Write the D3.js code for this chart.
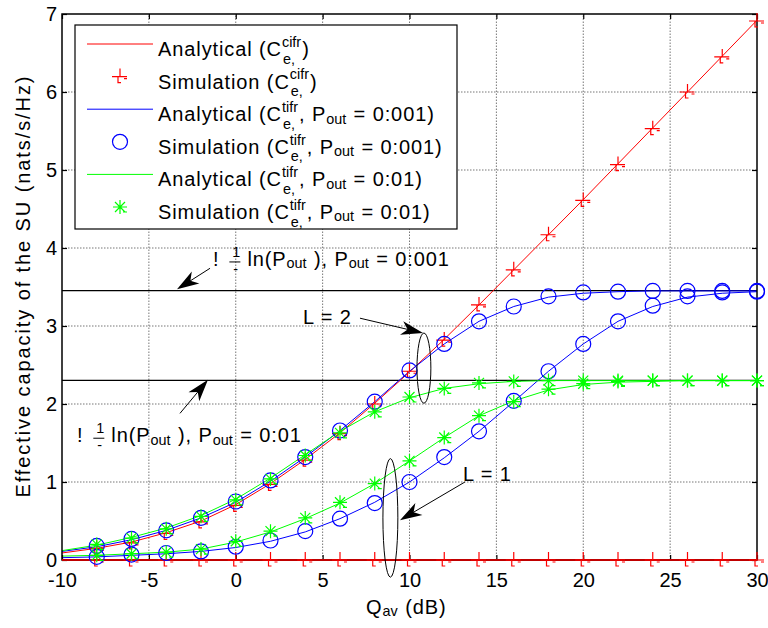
<!DOCTYPE html>
<html>
<head>
<meta charset="utf-8">
<title>Effective capacity of the SU</title>
<script src="https://cdn.jsdelivr.net/npm/d3@7"></script>
<style>
  body { margin: 0; background: #fff; }
  svg text { font-family: "Liberation Sans", Arial, Helvetica, sans-serif; fill: #000; white-space: pre; }
</style>
</head>
<body>
<script>
// Qav (dB) grid: analytical curves every 2 dB, simulation points from -8 dB
var qav    = [-10, -8, -6, -4, -2, 0, 2, 4, 6, 8, 10, 12, 14, 16, 18, 20, 22, 24, 26, 28, 30];
var qavSim = [-8, -6, -4, -2, 0, 2, 4, 6, 8, 10, 12, 14, 16, 18, 20, 22, 24, 26, 28, 30];

// C_e^cifr
var anaCifrL2 = [0.09, 0.15, 0.23, 0.35, 0.50, 0.71, 0.98, 1.29, 1.63, 2.01, 2.41, 2.83, 3.27, 3.72, 4.17, 4.62, 5.08, 5.54, 6.00, 6.46, 6.92];
var simCifrL2 = [0.15, 0.22, 0.34, 0.49, 0.70, 0.97, 1.28, 1.62, 2.00, 2.42, 2.82, 3.27, 3.72, 4.17, 4.61, 5.07, 5.53, 6.00, 6.45, 6.91];
var anaCifrL1 = [0, 0, 0, 0, 0, 0, 0, 0, 0, 0, 0, 0, 0, 0, 0, 0, 0, 0, 0, 0, 0];
var simCifrL1 = [0, 0, 0, 0, 0, 0, 0, 0, 0, 0, 0, 0, 0, 0, 0, 0, 0, 0, 0, 0];

// C_e^tifr, Pout = 0.001
var anaT001L2 = [0.11, 0.17, 0.26, 0.38, 0.54, 0.74, 1.01, 1.32, 1.66, 2.03, 2.42, 2.77, 3.06, 3.25, 3.37, 3.42, 3.44, 3.45, 3.45, 3.45, 3.45];
var simT001L2 = [0.18, 0.27, 0.38, 0.54, 0.75, 1.02, 1.32, 1.66, 2.03, 2.43, 2.77, 3.06, 3.25, 3.38, 3.43, 3.44, 3.45, 3.45, 3.45, 3.45];
var anaT001L1 = [0.03, 0.04, 0.06, 0.08, 0.11, 0.16, 0.24, 0.36, 0.53, 0.74, 1.00, 1.31, 1.65, 2.03, 2.42, 2.77, 3.06, 3.25, 3.37, 3.42, 3.44];
var simT001L1 = [0.04, 0.07, 0.09, 0.11, 0.17, 0.25, 0.37, 0.53, 0.73, 1.00, 1.32, 1.65, 2.04, 2.42, 2.77, 3.06, 3.26, 3.38, 3.43, 3.44];

// C_e^tifr, Pout = 0.01
var anaT01L2 = [0.12, 0.19, 0.29, 0.41, 0.57, 0.78, 1.05, 1.35, 1.65, 1.90, 2.08, 2.20, 2.26, 2.29, 2.30, 2.30, 2.30, 2.30, 2.30, 2.30, 2.30];
var simT01L2 = [0.20, 0.28, 0.40, 0.56, 0.77, 1.04, 1.34, 1.63, 1.90, 2.09, 2.20, 2.27, 2.29, 2.30, 2.30, 2.30, 2.30, 2.30, 2.30, 2.30];
var anaT01L1 = [0.05, 0.06, 0.08, 0.10, 0.14, 0.23, 0.36, 0.53, 0.73, 0.98, 1.27, 1.57, 1.85, 2.04, 2.18, 2.25, 2.28, 2.29, 2.30, 2.30, 2.30];
var simT01L1 = [0.06, 0.08, 0.10, 0.14, 0.24, 0.37, 0.54, 0.74, 0.98, 1.27, 1.57, 1.85, 2.03, 2.19, 2.26, 2.29, 2.30, 2.30, 2.30, 2.30];

// limits -(1/L) ln(Pout) with L = 2
var limitLevels = [3.454, 2.303];

var xTicks = [-10, -5, 0, 5, 10, 15, 20, 25, 30];
var yTicks = [0, 1, 2, 3, 4, 5, 6, 7];

var W = 768, H = 628;
var svg = d3.select('body').append('svg').attr('width', W).attr('height', H);

var x = d3.scaleLinear().domain([-10, 30]).range([62, 757]);
var y = d3.scaleLinear().domain([0, 7]).range([560, 14]);

var RED = '#ff0000', BLUE = '#0000ff', GREEN = '#00ff00';

var series = [
    { ana: anaCifrL1, sim: simCifrL1, color: RED,   marker: 'plus' },
    { ana: anaCifrL2, sim: simCifrL2, color: RED,   marker: 'plus' },
    { ana: anaT001L1, sim: simT001L1, color: BLUE,  marker: 'circle' },
    { ana: anaT001L2, sim: simT001L2, color: BLUE,  marker: 'circle' },
    { ana: anaT01L1,  sim: simT01L1,  color: GREEN, marker: 'star' },
    { ana: anaT01L2,  sim: simT01L2,  color: GREEN, marker: 'star' }
];

// marker shapes (a bit ragged, like the exported figure)
var markerPath = {
    plus: 'M-8,0H7M0,-8V0M-2,0V6H1M4,2H7',
    star: 'M-7,0H7M0,-7V7M-5,-5L5,5M-5,5L5,-5M3,5H7'
};

function drawMarker(g, kind, color, px, py) {
    if (kind === 'circle') {
        g.append('circle').attr('cx', px).attr('cy', py).attr('r', 7.5)
            .attr('fill', 'none').attr('stroke', color).attr('stroke-width', 1.2);
    } else {
        g.append('path').attr('d', markerPath[kind]).attr('transform', 'translate(' + px + ',' + py + ')')
            .attr('fill', 'none').attr('stroke', color).attr('stroke-width', 1.2);
    }
}

// grid
var grid = svg.append('g');
grid.selectAll('.gx').data(xTicks.slice(1, -1)).enter().append('line')
    .attr('x1', function(d) { return x(d); }).attr('x2', function(d) { return x(d); })
    .attr('y1', y(0)).attr('y2', y(7))
    .attr('stroke', '#777').attr('stroke-dasharray', '1.5,1.5');
grid.selectAll('.gy').data(yTicks.slice(1, -1)).enter().append('line')
    .attr('y1', function(d) { return y(d); }).attr('y2', function(d) { return y(d); })
    .attr('x1', x(-10)).attr('x2', x(30))
    .attr('stroke', '#777').attr('stroke-dasharray', '1.5,1.5');

// limit lines
svg.selectAll('.lim').data(limitLevels).enter().append('line')
    .attr('x1', x(-10)).attr('x2', x(30))
    .attr('y1', function(d) { return y(d); }).attr('y2', function(d) { return y(d); })
    .attr('stroke', '#000').attr('stroke-width', 1.2);

// analytical lines
var line = d3.line().x(function(d, i) { return x(qav[i]); }).y(function(d) { return y(d); });
series.forEach(function(s) {
    svg.append('path').attr('d', line(s.ana))
        .attr('fill', 'none').attr('stroke', s.color).attr('stroke-width', 1);
});

// axes box and inward ticks
svg.append('rect').attr('x', x(-10)).attr('y', y(7))
    .attr('width', x(30) - x(-10)).attr('height', y(0) - y(7))
    .attr('fill', 'none').attr('stroke', '#000').attr('stroke-width', 1.5);

function plainNum(d) { return String(d); } // keep the ASCII hyphen
function styleAxis(g) {
    g.select('.domain').remove();
    g.selectAll('.tick line').attr('stroke', '#000').attr('stroke-width', 1.2);
    g.selectAll('.tick text').attr('font-size', 20).attr('fill', '#000');
}
svg.append('g').attr('transform', 'translate(0,' + y(0) + ')')
    .call(d3.axisBottom(x).tickValues(xTicks).tickFormat(plainNum).tickSize(-5).tickPadding(13)).call(styleAxis);
svg.append('g').attr('transform', 'translate(0,' + y(7) + ')')
    .call(d3.axisTop(x).tickValues(xTicks).tickSize(-5).tickFormat('')).call(styleAxis);
svg.append('g').attr('transform', 'translate(' + x(-10) + ',0)')
    .call(d3.axisLeft(y).tickValues(yTicks).tickFormat(plainNum).tickSize(-5).tickPadding(5)).call(styleAxis);
svg.append('g').attr('transform', 'translate(' + x(30) + ',0)')
    .call(d3.axisRight(y).tickValues(yTicks).tickSize(-5).tickFormat('')).call(styleAxis);

// red L=1 line sits on the x axis
svg.append('path').attr('d', line(anaCifrL1)).attr('fill', 'none').attr('stroke', '#c00000').attr('stroke-width', 1.8);

// simulation markers
series.forEach(function(s) {
    var g = svg.append('g');
    s.sim.forEach(function(v, i) { drawMarker(g, s.marker, s.color, x(qavSim[i]), y(v)); });
});

// rich text: plain strings, {sub}, {sup}, {sup, sub} stacked
function rich(g, px, py, parts, size) {
    var cx = px;
    var small = size * 0.72;
    parts.forEach(function(p) {
        if (typeof p === 'string') {
            var t = g.append('text').attr('x', cx).attr('y', py).attr('font-size', size)
                .attr('letter-spacing', '0.9px').text(p);
            cx += t.node().getComputedTextLength();
        } else {
            var w = 0;
            if (p.sup) {
                var t1 = g.append('text').attr('x', cx).attr('y', py - size * 0.46).attr('font-size', small).text(p.sup);
                w = Math.max(w, t1.node().getComputedTextLength());
            }
            if (p.sub) {
                var t2 = g.append('text').attr('x', cx + (p.sup ? 1 : 0)).attr('y', py + (p.sup ? size * 0.38 : size * 0.12))
                    .attr('font-size', small).text(p.sub);
                w = Math.max(w, t2.node().getComputedTextLength());
            }
            if (p.bar) {
                g.append('line').attr('x1', cx - 3).attr('x2', cx + w).attr('y1', py - size * 0.2).attr('y2', py - size * 0.2)
                    .attr('stroke', '#000').attr('stroke-width', 1);
            }
            cx += w + (p.gap || 1);
        }
    });
    return cx;
}

// legend
var legendLabels = [
    ['Analytical (C', { sup: 'cifr', sub: 'e,' }, ')'],
    ['Simulation (C', { sup: 'cifr', sub: 'e,' }, ')'],
    ['Analytical (C', { sup: 'tifr', sub: 'e,' }, ', P', { sub: 'out' }, ' = 0:001)'],
    ['Simulation (C', { sup: 'tifr', sub: 'e,' }, ', P', { sub: 'out' }, ' = 0:001)'],
    ['Analytical (C', { sup: 'tifr', sub: 'e,' }, ', P', { sub: 'out' }, ' = 0:01)'],
    ['Simulation (C', { sup: 'tifr', sub: 'e,' }, ', P', { sub: 'out' }, ' = 0:01)']
];
var legendKind = ['line', 'plus', 'line', 'circle', 'line', 'star'];
var legendColor = [RED, RED, BLUE, BLUE, GREEN, GREEN];

var lg = svg.append('g');
lg.append('rect').attr('x', 75).attr('y', 25).attr('width', 382).attr('height', 204)
    .attr('fill', '#fff').attr('stroke', '#000').attr('stroke-width', 1.2);
legendLabels.forEach(function(parts, i) {
    var base = 56 + i * 32.6;
    var my = base - 12;
    if (legendKind[i] === 'line') {
        lg.append('line').attr('x1', 87).attr('x2', 153).attr('y1', my).attr('y2', my)
            .attr('stroke', legendColor[i]).attr('stroke-width', 1);
    } else {
        drawMarker(lg, legendKind[i], legendColor[i], 120, my);
    }
    rich(lg, 158, base, parts, 20);
});

// annotations
var ann = svg.append('g');
function arrow(x1, y1, x2, y2) {
    var px1 = x(x1), py1 = y(y1), px2 = x(x2), py2 = y(y2);
    var a = Math.atan2(py2 - py1, px2 - px1);
    var L = 22, w = 7;
    ann.append('line').attr('x1', px1).attr('y1', py1)
        .attr('x2', px2 - 10 * Math.cos(a)).attr('y2', py2 - 10 * Math.sin(a))
        .attr('stroke', '#000').attr('stroke-width', 1);
    var pts = [[0, 0], [-L, w], [-L * 0.72, 0], [-L, -w]].map(function(p) {
        return [px2 + p[0] * Math.cos(a) - p[1] * Math.sin(a), py2 + p[0] * Math.sin(a) + p[1] * Math.cos(a)];
    });
    ann.append('polygon').attr('points', pts.map(function(p) { return p.join(','); }).join(' ')).attr('fill', '#000');
}
function ellipse(cx, cy, rx, ry) {
    ann.append('ellipse').attr('cx', x(cx)).attr('cy', y(cy))
        .attr('rx', x(cx + rx) - x(cx)).attr('ry', y(cy - ry) - y(cy))
        .attr('fill', 'none').attr('stroke', '#000').attr('stroke-width', 1);
}

ellipse(10.83, 2.46, 0.4, 0.45);
ellipse(8.9, 0.54, 0.43, 0.76);

arrow(7.15, 3.10, 10.78, 2.91);
arrow(13.19, 1.00, 9.45, 0.51);
arrow(-1.48, 3.74, -3.38, 3.47);
arrow(-3.21, 1.88, -1.60, 2.31);

rich(ann, x(3.87), y(3.03), ['L = 2'], 20);
rich(ann, x(13.08), y(1.01), ['L = 1'], 20);
rich(ann, x(-1.31), y(3.77), ['!  ', { sup: '1', sub: '-', bar: true, gap: 7 }, 'ln(P', { sub: 'out' }, ' ), P', { sub: 'out' }, ' = 0:001'], 20);
rich(ann, x(-9.14), y(1.51), ['!  ', { sup: '1', sub: '-', bar: true, gap: 7 }, 'ln(P', { sub: 'out' }, ' ), P', { sub: 'out' }, ' = 0:01'], 20);

// axis labels
var xl = svg.append('g');
rich(xl, 366, 614, ['Q', { sub: 'av' }, ' (dB)'], 20);
svg.append('text').attr('transform', 'translate(30,' + ((y(0) + y(7)) / 2) + ') rotate(-90)')
    .attr('text-anchor', 'middle').attr('font-size', 20)
    .attr('textLength', 421).attr('lengthAdjust', 'spacing')
    .text('Effective capacity of the SU (nats/s/Hz)');
</script>
</body>
</html>
